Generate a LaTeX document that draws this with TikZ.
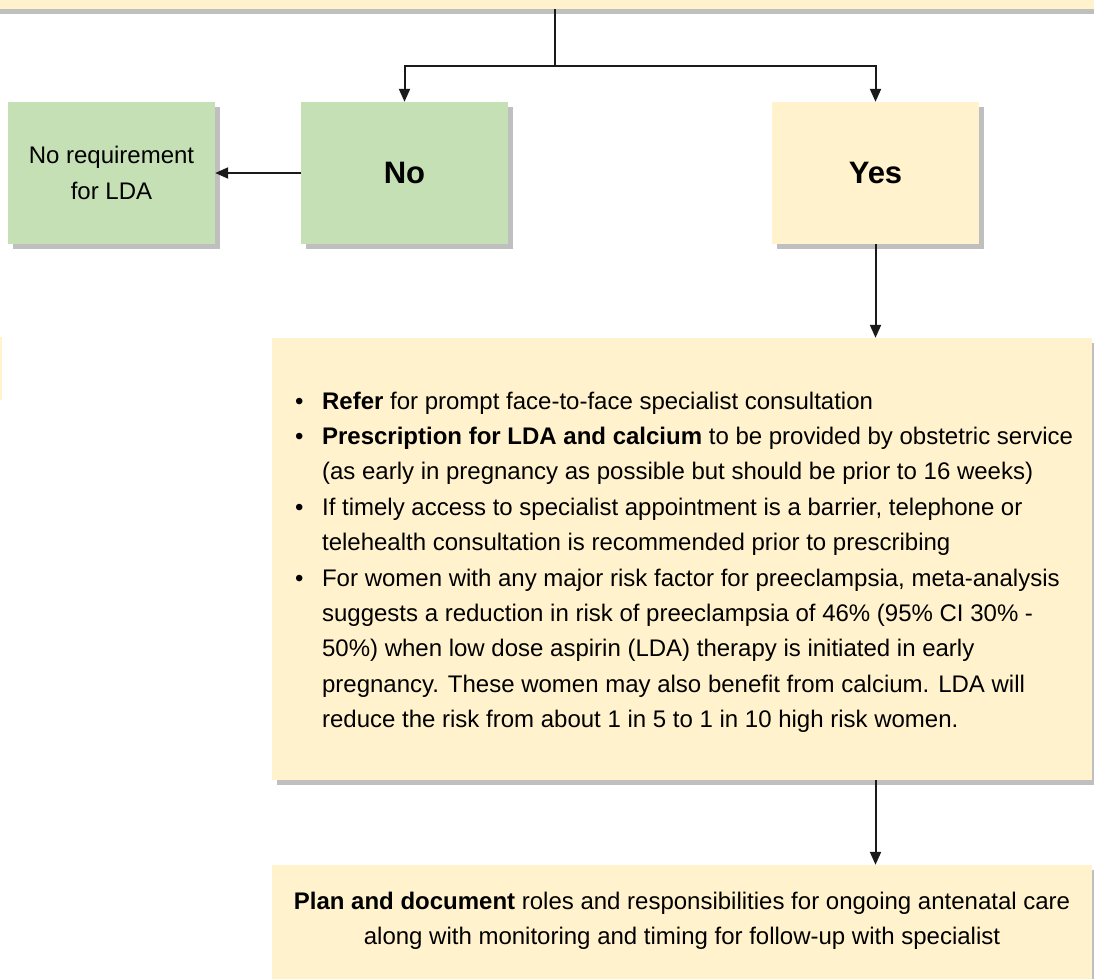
\documentclass[tikz,border=0pt]{standalone}
\usepackage{fontspec}
\setmainfont{Liberation Sans}
\usetikzlibrary{arrows.meta,shadows}
\definecolor{boxgreen}{HTML}{C5E0B4}
\definecolor{boxyellow}{HTML}{FFF2CC}
\definecolor{linec}{HTML}{1A1A1A}
\begin{document}
\begin{tikzpicture}[x=1pt,y=-1pt,
  box/.style={draw=none, rectangle, inner sep=0pt,
    drop shadow={shadow xshift=5pt, shadow yshift=-5pt, fill=black!50, opacity=0.5}},
  gbox/.style={box, fill=boxgreen},
  ybox/.style={box, fill=boxyellow},
  smallbox/.style={minimum width=207pt, minimum height=142pt},
  body/.style={font=\fontsize{24}{35.4}\selectfont},
  big/.style={font=\fontsize{31}{36}\selectfont\bfseries},
  plainline/.style={line width=2pt, draw=linec},
  conn/.style={plainline, -{Triangle[length=13pt,width=11pt]}}]
\useasboundingbox (0,0) rectangle (1094,978);
\clip (0,0) rectangle (1094,978);

% top box (cut off)
\node[ybox, minimum width=1140pt, minimum height=80pt] (top) at (547,-31) {};
% fragment of a box at the left edge
\fill[boxyellow] (-10,337) rectangle (1.5,400);

\node[gbox, smallbox, body, align=center] (noreq) at (111.5,173) {No requirement\\for LDA};
\node[gbox, smallbox, big] (no) at (404.5,173) {No};
\node[ybox, smallbox, big] (yes) at (875.5,173) {Yes};

\node[ybox, minimum width=820pt, minimum height=442pt] (bigbox) at (682,559) {};
\node[anchor=base west, inner sep=0pt, body] (list) at (295,409) {%
\begin{tabular}[t]{@{}l@{\hspace{18.5pt}}l@{}}
\textbullet & \textbf{Refer} for prompt face-to-face specialist consultation\\
\textbullet & \textbf{Prescription for LDA and calcium} to be provided by obstetric service\\
 & (as early in pregnancy as possible but should be prior to 16 weeks)\\
\textbullet & If timely access to specialist appointment is a barrier, telephone or\\
 & telehealth consultation is recommended prior to prescribing\\
\textbullet & For women with any major risk factor for preeclampsia, meta-analysis\\
 & suggests a reduction in risk of preeclampsia of 46\% (95\% CI 30\% -\\
 & 50\%) when low dose aspirin (LDA) therapy is initiated in early\\
 & pregnancy. These women may also benefit from calcium. LDA will\\
 & reduce the risk from about 1 in 5 to 1 in 10 high risk women.
\end{tabular}};

\node[ybox, minimum width=820pt, minimum height=130pt] (plan) at (682,930) {};
\node[body, align=center, inner sep=0pt] (plantext) at (682,921)
  {\textbf{Plan and document} roles and responsibilities for ongoing antenatal care\\
   along with monitoring and timing for follow-up with specialist};

% connectors
\coordinate (split) at (555,66);
\draw[plainline] (top.south -| split) -- (split);
\draw[conn] (split) -| (no.north);
\draw[conn] (split) -| (yes.north);
\draw[conn] (no.west) -- (noreq.east);
\draw[conn] (yes.south) -- (yes.south |- bigbox.north);
\draw[conn] (bigbox.south -| yes) -- (plan.north -| yes);
\end{tikzpicture}
\end{document}
